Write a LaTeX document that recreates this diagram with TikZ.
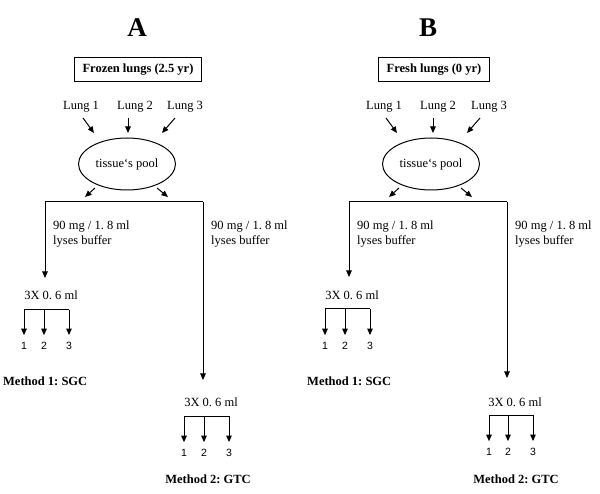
\documentclass[tikz,border=0pt]{standalone}
\usepackage{fontspec}
\setmainfont{Liberation Serif}
\newfontfamily\numfont{Liberation Sans}
\usetikzlibrary{shapes.geometric, arrows.meta}
\frenchspacing
\tikzstyle{txt}    = [inner sep=0pt, font=\fontsize{12.5}{15}\selectfont]
\tikzstyle{boxed}  = [rectangle, draw=black, line width=1pt, minimum height=24pt, inner xsep=8.5pt, font=\fontsize{12.5}{15}\selectfont\bfseries]
\tikzstyle{pool}   = [ellipse, draw=black, line width=1pt, minimum width=97pt, minimum height=52pt, inner sep=0pt, font=\fontsize{12.5}{15}\selectfont]
\tikzstyle{num}    = [inner sep=0pt, font=\fontsize{10.5}{12}\numfont]
\tikzstyle{method} = [inner sep=0pt, font=\fontsize{12.5}{15}\selectfont\bfseries]
\tikzstyle{panel}  = [inner sep=0pt, font=\fontsize{27}{30}\selectfont\bfseries]
\tikzstyle{line}   = [line width=1pt]
\tikzstyle{arrow}  = [line width=1pt, ->, >={Stealth[length=6.5pt,width=5.5pt,inset=0pt]}]
\tikzstyle{branch} = [arrow, shorten >=7pt]

\begin{document}
\begin{tikzpicture}[x=1pt, y=-1pt]
      \useasboundingbox (0,0) rectangle (600,494);

      % A: frozen lungs
      \node (titleA) [panel] at (137,28) {A};
      \node (srcA)   [boxed] at (138,70) {Frozen lungs (2.5 yr)};
      \node (l1A)    [txt]   at (81,107)  {Lung 1};
      \node (l2A)    [txt]   at (135,107) {Lung 2};
      \node (l3A)    [txt]   at (185,107) {Lung 3};
      \node (poolA)  [pool]  at (127,164) {tissue`s pool};

      \coordinate (a1A) at (83,118);  \coordinate (b1A) at (94,133);
      \coordinate (a2A) at (128,118); \coordinate (b2A) at (128,133);
      \coordinate (a3A) at (175,118); \coordinate (b3A) at (162,133);
      \draw [arrow] (a1A) -- (b1A);
      \draw [arrow] (a2A) -- (b2A);
      \draw [arrow] (a3A) -- (b3A);

      \coordinate (c1A) at (95,188);  \coordinate (d1A) at (85,197);
      \coordinate (c2A) at (157,188); \coordinate (d2A) at (168,197);
      \draw [arrow] (c1A) -- (d1A);
      \draw [arrow] (c2A) -- (d2A);

      \coordinate (jA) at (45,202);
      \coordinate (kA) at (203,202);
      \coordinate (e1A) at (45,278);
      \coordinate (e2A) at (203,380);
      \draw [line]  (jA) -- (kA);
      \draw [arrow] (jA) -- (e1A);
      \draw [arrow] (kA) -- (e2A);

      \node (buf1A) [txt, align=left, anchor=west] at (53,234)  {90 mg / 1. 8 ml\\lyses buffer};
      \node (buf2A) [txt, align=left, anchor=west] at (211,234) {90 mg / 1. 8 ml\\lyses buffer};

      % A: method 1
      \node (s1A) [txt] at (51,295) {3X 0. 6 ml};
      \coordinate (h1A) at (24,310);
      \coordinate (h2A) at (44,310);
      \coordinate (h3A) at (69,310);
      \node (n11A) [num] at (24,346) {1};
      \node (n12A) [num] at (44,346) {2};
      \node (n13A) [num] at (69,346) {3};
      \draw [line]   (h1A) -- (h3A);
      \draw [branch] (h1A) -- (n11A.north);
      \draw [branch] (h2A) -- (n12A.north);
      \draw [branch] (h3A) -- (n13A.north);
      \node (m1A) [method, anchor=west] at (3,381) {Method 1: SGC};

      % A: method 2
      \node (s2A) [txt] at (211,402) {3X 0. 6 ml};
      \coordinate (g1A) at (184,416);
      \coordinate (g2A) at (204,416);
      \coordinate (g3A) at (229,416);
      \node (n21A) [num] at (184,453) {1};
      \node (n22A) [num] at (204,453) {2};
      \node (n23A) [num] at (229,453) {3};
      \draw [line]   (g1A) -- (g3A);
      \draw [branch] (g1A) -- (n21A.north);
      \draw [branch] (g2A) -- (n22A.north);
      \draw [branch] (g3A) -- (n23A.north);
      \node (m2A) [method] at (208,479) {Method 2: GTC};

      % B: fresh lungs
      \node (titleB) [panel] at (428,28) {B};
      \node (srcB)   [boxed] at (434,70) {Fresh lungs (0 yr)};
      \node (l1B)    [txt]   at (384,107) {Lung 1};
      \node (l2B)    [txt]   at (438,107) {Lung 2};
      \node (l3B)    [txt]   at (489,107) {Lung 3};
      \node (poolB)  [pool]  at (431,164) {tissue`s pool};

      \coordinate (a1B) at (386,118); \coordinate (b1B) at (397,133);
      \coordinate (a2B) at (433,118); \coordinate (b2B) at (433,133);
      \coordinate (a3B) at (480,118); \coordinate (b3B) at (467,133);
      \draw [arrow] (a1B) -- (b1B);
      \draw [arrow] (a2B) -- (b2B);
      \draw [arrow] (a3B) -- (b3B);

      \coordinate (c1B) at (399,188); \coordinate (d1B) at (389,197);
      \coordinate (c2B) at (461,188); \coordinate (d2B) at (472,197);
      \draw [arrow] (c1B) -- (d1B);
      \draw [arrow] (c2B) -- (d2B);

      \coordinate (jB) at (349,202);
      \coordinate (kB) at (507,202);
      \coordinate (e1B) at (349,277);
      \coordinate (e2B) at (507,378);
      \draw [line]  (jB) -- (kB);
      \draw [arrow] (jB) -- (e1B);
      \draw [arrow] (kB) -- (e2B);

      \node (buf1B) [txt, align=left, anchor=west] at (357,234) {90 mg / 1. 8 ml\\lyses buffer};
      \node (buf2B) [txt, align=left, anchor=west] at (515,234) {90 mg / 1. 8 ml\\lyses buffer};

      % B: method 1
      \node (s1B) [txt] at (352,295) {3X 0. 6 ml};
      \coordinate (h1B) at (325,309);
      \coordinate (h2B) at (345,309);
      \coordinate (h3B) at (370,309);
      \node (n11B) [num] at (325,346) {1};
      \node (n12B) [num] at (345,346) {2};
      \node (n13B) [num] at (370,346) {3};
      \draw [line]   (h1B) -- (h3B);
      \draw [branch] (h1B) -- (n11B.north);
      \draw [branch] (h2B) -- (n12B.north);
      \draw [branch] (h3B) -- (n13B.north);
      \node (m1B) [method, anchor=west] at (307,381) {Method 1: SGC};

      % B: method 2
      \node (s2B) [txt] at (515,402) {3X 0. 6 ml};
      \coordinate (g1B) at (489,415);
      \coordinate (g2B) at (508,415);
      \coordinate (g3B) at (533,415);
      \node (n21B) [num] at (489,452) {1};
      \node (n22B) [num] at (508,452) {2};
      \node (n23B) [num] at (533,452) {3};
      \draw [line]   (g1B) -- (g3B);
      \draw [branch] (g1B) -- (n21B.north);
      \draw [branch] (g2B) -- (n22B.north);
      \draw [branch] (g3B) -- (n23B.north);
      \node (m2B) [method] at (516,479) {Method 2: GTC};

    \end{tikzpicture}
\end{document}
